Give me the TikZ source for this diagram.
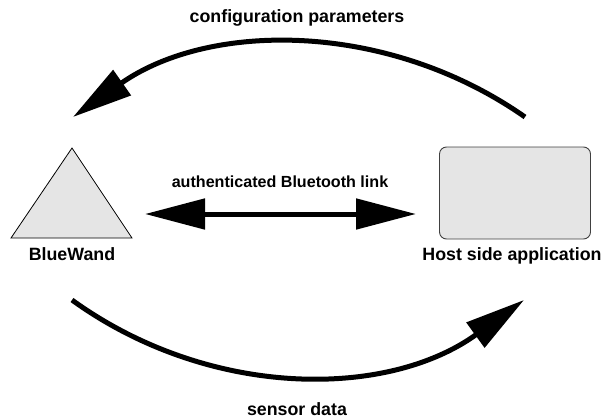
\documentclass[tikz,border=0pt]{standalone}
\usepackage{fontspec}
\setmainfont{Liberation Sans}
\usetikzlibrary{arrows.meta}
\definecolor{boxgray}{HTML}{E5E5E5}
\definecolor{edgegray}{HTML}{404040}
\begin{document}
\begin{tikzpicture}[x=1pt,y=-1pt,
  lbl/.style={font=\bfseries\fontsize{17.8}{20}\selectfont, inner sep=0pt, anchor=base},
  smalllbl/.style={font=\bfseries\fontsize{16.1}{18}\selectfont, inner sep=0pt, anchor=base},
  flow/.style={line width=5pt, -{Triangle[length=60pt,width=30pt]}},
  link/.style={line width=5pt, {Triangle[length=60pt,width=30pt]}-{Triangle[length=60pt,width=30pt]}}]
\useasboundingbox (0,0) rectangle (602,418);
% BlueWand triangle
\draw[fill=boxgray, draw=black, line width=0.8pt] (11,238) -- (132,238) -- (72,148) -- cycle;
\coordinate (bw) at (72,200);
\node[lbl] (bwlabel) at (72,260) {BlueWand};
% Host box
\node[draw=edgegray, fill=boxgray, line width=0.9pt, rounded corners=7pt, minimum width=151pt, minimum height=92pt, inner sep=0pt] (host) at (515,193) {};
\node[lbl] (hostlabel) at (512,260) {Host side application};
% connector end points
\coordinate (topR) at (525,117);
\coordinate (topL) at (73,117);
\coordinate (botL) at (72,300);
\coordinate (botR) at (524,300);
\coordinate (linkL) at (145,214);
\coordinate (linkR) at (416,214);
% arcs
\draw[flow] (topR) .. controls (388,21) and (210,21) .. (topL);
\draw[flow] (botL) .. controls (209,399) and (387,399) .. (botR);
\draw[link] (linkL) -- (linkR);
% labels
\node[lbl] (cfg) at (297,22) {configuration parameters};
\node[smalllbl] (auth) at (280,187) {authenticated Bluetooth link};
\node[lbl] (sensor) at (297,415) {sensor data};
\end{tikzpicture}
\end{document}
